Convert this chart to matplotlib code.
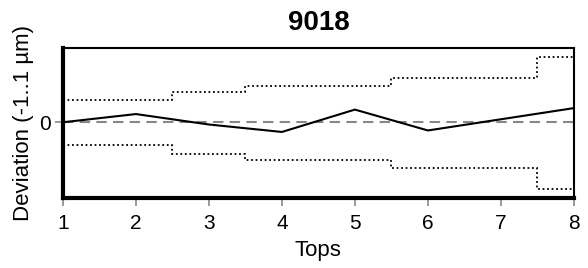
import matplotlib
matplotlib.use("Agg")
import matplotlib.pyplot as plt
import numpy as np

plt.rcParams['font.family'] = ['Liberation Sans', 'DejaVu Sans']

tops = [1, 2, 3, 4, 5, 6, 7, 8]
deviation = [0.0, 0.11, -0.03, -0.13, 0.17, -0.11, 0.04, 0.19]

# tolerance band steps (edges and values)
band_edges = [1, 2.5, 3.5, 5.5, 7.5, 8]
upper_vals = [0.30, 0.41, 0.48, 0.59, 0.88]
lower_vals = [-0.31, -0.43, -0.50, -0.61, -0.90]

title = "9018"
xlabel = "Tops"
ylabel = "Deviation (-1..1 µm)"

fig = plt.figure(figsize=(5.88, 2.68), dpi=100)
ax = fig.add_axes([0.107, 0.26, 0.869, 0.562])

ax.axhline(0, color='#888888', lw=1.5, ls=(0, (5, 3)), zorder=1)
ax.stairs(upper_vals, band_edges, color='black', lw=1.3, ls=(0, (1, 1.5)), baseline=None)
ax.stairs(lower_vals, band_edges, color='black', lw=1.3, ls=(0, (1, 1.5)), baseline=None)
ax.plot(tops, deviation, color='black', lw=1.5, zorder=3)

ax.set_xlim(1, 8)
ax.set_ylim(-1.02, 1.0)
ax.set_xticks(tops)
ax.set_yticks([0])
ax.tick_params(axis='both', colors='#888888', labelcolor='black', labelsize=15, length=6, width=1.2, pad=3)
ax.tick_params(axis='x', pad=5.5)

for s in ['left', 'bottom']:
    ax.spines[s].set_linewidth(3)
for s in ['top', 'right']:
    ax.spines[s].set_linewidth(1.5)

ax.set_title(title, fontsize=20, fontweight='bold', pad=13)
ax.set_xlabel(xlabel, fontsize=16, labelpad=5)
ax.set_ylabel(ylabel, fontsize=16, labelpad=3)

fig.savefig("out.png", dpi=100)
